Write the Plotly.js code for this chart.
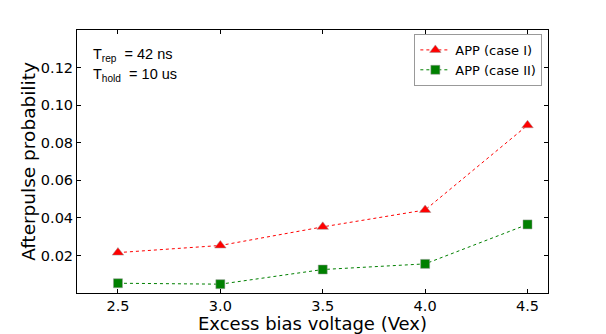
<!DOCTYPE html>
<html>
<head>
<meta charset="utf-8">
<script src="https://cdn.plot.ly/plotly-3.0.1.min.js"></script>
<style>body{margin:0;background:#fff}#chart{width:606px;height:334px}</style>
</head>
<body>
<div id="chart"></div>
<script>
// Values
const vex = [2.5, 3.0, 3.5, 4.0, 4.5];
const appCase1 = [0.0215, 0.0253, 0.0352, 0.0442, 0.0893];
const appCase2 = [0.0052, 0.0047, 0.0125, 0.0155, 0.0365];
const yTicks = [0.02, 0.04, 0.06, 0.08, 0.10, 0.12];
const yTickText = ["0.02", "0.04", "0.06", "0.08", "0.10", "0.12"];
const xTicks = [2.5, 3.0, 3.5, 4.0, 4.5];
const xTickText = ["2.5", "3.0", "3.5", "4.0", "4.5"];

const case1 = {
    x: vex, y: appCase1, name: "APP (case I)",
    mode: "lines+markers",
    line: {color: "red", dash: "3px,3px", width: 1},
    marker: {symbol: "triangle-up", size: 10, color: "red", line: {color: "#999", width: 0.5}}
};
const case2 = {
    x: vex, y: appCase2, name: "APP (case II)",
    mode: "lines+markers",
    line: {color: "green", dash: "3px,3px", width: 1},
    marker: {symbol: "square", size: 9, color: "green", line: {color: "#999", width: 0.5}}
};

const axisStyle = {
    showgrid: false, zeroline: false, showline: true, mirror: "ticks",
    linecolor: "black", linewidth: 1,
    ticks: "inside", ticklen: 4, tickcolor: "black",
    tickfont: {family: "DejaVu Sans", size: 14.5, color: "black"}
};

const layout = {
    width: 606, height: 334,
    margin: {l: 77, r: 58, t: 30, b: 41},
    paper_bgcolor: "white", plot_bgcolor: "white",
    showlegend: true,
    legend: {
        x: 0.988, y: 0.985, xanchor: "right", yanchor: "top",
        bordercolor: "#999", borderwidth: 1, bgcolor: "white",
        font: {family: "DejaVu Sans", size: 13, color: "black"},
        tracegroupgap: 0
    },
    xaxis: Object.assign({}, axisStyle, {
        range: [2.3, 4.6],
        tickvals: xTicks, ticktext: xTickText,
        title: {text: "Excess bias voltage (Vex)", standoff: 0,
            font: {family: "DejaVu Sans", size: 18, color: "black"}}
    }),
    yaxis: Object.assign({}, axisStyle, {
        range: [0, 0.14],
        tickvals: yTicks, ticktext: yTickText,
        title: {text: "Afterpulse probability", standoff: 0,
            font: {family: "DejaVu Sans", size: 18.5, color: "black"}}
    }),
    annotations: [
        {xref: "paper", yref: "paper", x: 0.03, y: 0.905, xanchor: "left", yanchor: "middle",
         text: "T<sub>rep</sub>  = 42 ns", showarrow: false,
         font: {family: "Liberation Sans", size: 14.5, color: "black"}},
        {xref: "paper", yref: "paper", x: 0.03, y: 0.83, xanchor: "left", yanchor: "middle",
         text: "T<sub>hold</sub>  = 10 us", showarrow: false,
         font: {family: "Liberation Sans", size: 14.5, color: "black"}}
    ]
};

Plotly.newPlot("chart", [case1, case2], layout, {displayModeBar: false});
</script>
</body>
</html>
